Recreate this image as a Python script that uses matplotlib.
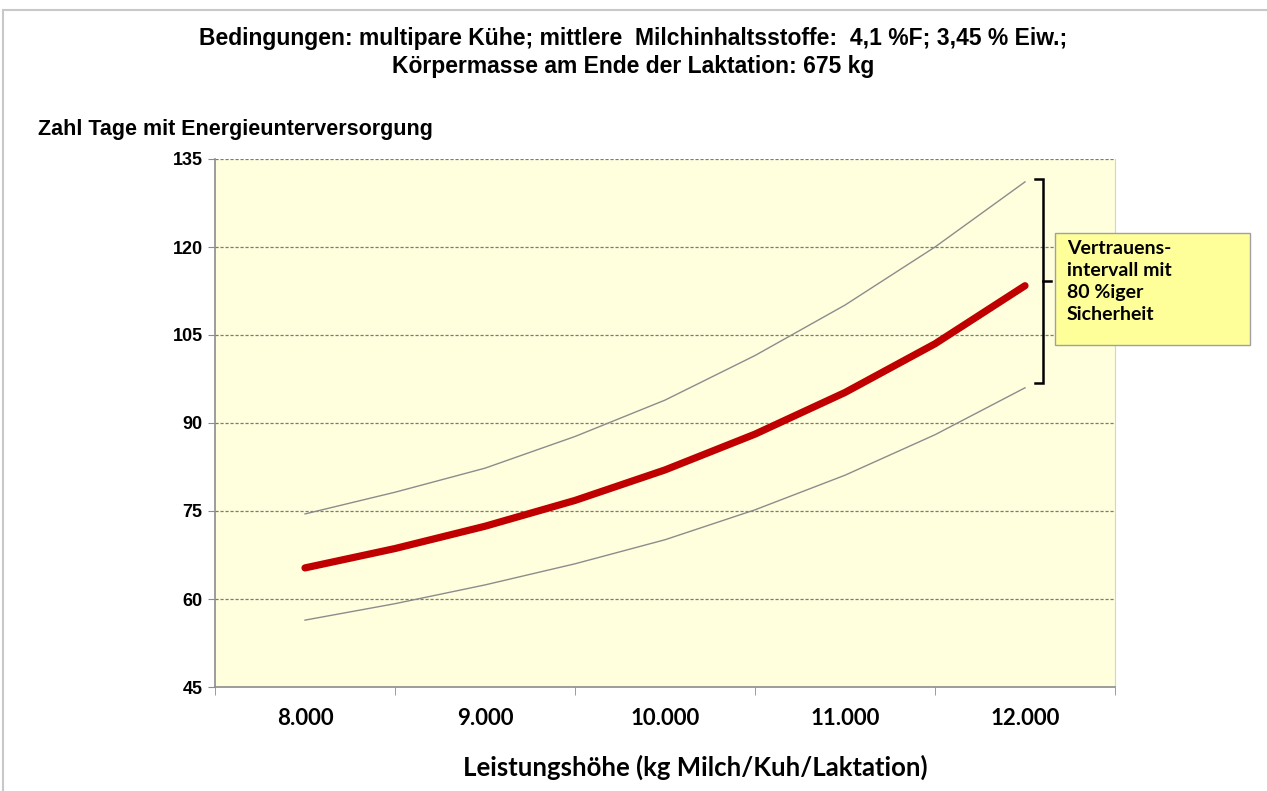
import matplotlib
matplotlib.use("Agg")
import matplotlib.pyplot as plt
from matplotlib.patches import Rectangle
from matplotlib.ticker import FixedLocator, NullFormatter

# Leistungshöhe (kg Milch/Kuh/Laktation)
milk = [8000, 8500, 9000, 9500, 10000, 10500, 11000, 11500, 12000]
# Zahl Tage mit Energieunterversorgung
days_mean = [65.3, 68.6, 72.4, 76.8, 82.0, 88.1, 95.2, 103.5, 113.4]
days_upper = [74.5, 78.2, 82.3, 87.7, 93.9, 101.5, 110.1, 120.0, 131.1]
days_lower = [56.4, 59.2, 62.4, 66.0, 70.1, 75.2, 81.1, 88.0, 96.0]

y_ticks = [45, 60, 75, 90, 105, 120, 135]
x_labels = ["8.000", "9.000", "10.000", "11.000", "12.000"]

narrow = ["Liberation Sans", "DejaVu Sans"]
calibri = ["Lato", "DejaVu Sans"]

W, H = 1267, 791
fig = plt.figure(figsize=(W / 100, H / 100), dpi=100)
fig.patch.set_facecolor("white")

# frame of the embedded picture
fig.add_artist(Rectangle((3 / W, -0.01), 1.1, 1 - 10 / H + 0.01, transform=fig.transFigure,
                         fill=False, edgecolor="#c8c8c8", linewidth=1.5))

ax = fig.add_axes([215 / W, 1 - 687 / H, 900 / W, 528 / H])
ax.set_facecolor("#ffffde")

ax.plot(milk, days_upper, color="#8c8c8c", linewidth=1.0, zorder=3)
ax.plot(milk, days_lower, color="#8c8c8c", linewidth=1.0, zorder=3)
ax.plot(milk, days_mean, color="#c00000", linewidth=5.2, solid_capstyle="round",
        solid_joinstyle="round", zorder=4)

ax.set_xlim(7500, 12500)
ax.set_ylim(45, 135)
ax.set_yticks(y_ticks)
ax.set_yticklabels([str(v) for v in y_ticks], fontfamily=narrow, fontweight="bold", fontsize=13)

# ticks between categories, labels at category centers
ax.xaxis.set_major_locator(FixedLocator(milk[::2]))
ax.set_xticklabels(x_labels, fontfamily=calibri, fontweight="bold", fontsize=16)
ax.tick_params(axis="x", which="major", length=0, pad=15)
ax.xaxis.set_minor_locator(FixedLocator([7500, 8500, 9500, 10500, 11500, 12500]))
ax.xaxis.set_minor_formatter(NullFormatter())
ax.tick_params(axis="x", which="minor", length=6, color="#8c8c8c", direction="out")
ax.tick_params(axis="y", length=5, color="#8c8c8c", direction="out", pad=4)

for v in y_ticks[1:]:
    ax.axhline(v, color="#7a7a7a", linewidth=0.9, linestyle=(0, (2.5, 1.5)), zorder=1)

for s in ["left", "bottom"]:
    ax.spines[s].set_color("#8c8c8c")
    ax.spines[s].set_linewidth(1.2)
ax.spines["right"].set_color("#d6d6c0")
ax.spines["top"].set_visible(False)

# bracket for the confidence interval
bx = 12100
tick = 45
ax.plot([bx - tick, bx, bx, bx - tick], [131.6, 131.6, 96.8, 96.8], color="black",
        linewidth=1.8, clip_on=False, zorder=5, solid_joinstyle="miter")
ax.plot([bx, bx + tick], [114.2, 114.2], color="black", linewidth=1.8, clip_on=False, zorder=5)

fig.text(1067 / W, 1 - 240 / H, "Vertrauens-\nintervall mit\n80 %iger\nSicherheit",
         ha="left", va="top", fontfamily=calibri, fontweight="bold", fontsize=14,
         linespacing=1.36, zorder=7)
fig.add_artist(Rectangle((1055 / W, 1 - 345 / H), 195 / W, 112 / H, transform=fig.transFigure,
                         facecolor="#ffff99", edgecolor="#a0a0a0", linewidth=1.0, zorder=6))

fig.text(633 / W, 1 - 39 / H,
         "Bedingungen: multipare Kühe; mittlere  Milchinhaltsstoffe:  4,1 %F; 3,45 % Eiw.;",
         ha="center", va="center", fontfamily=narrow, fontweight="bold", fontsize=16.5)
fig.text(633 / W, 1 - 67 / H, "Körpermasse am Ende der Laktation: 675 kg",
         ha="center", va="center", fontfamily=narrow, fontweight="bold", fontsize=16.5)
fig.text(38 / W, 1 - 130 / H, "Zahl Tage mit Energieunterversorgung",
         ha="left", va="center", fontfamily=narrow, fontweight="bold", fontsize=15.5)
fig.text(695 / W, 1 - 767 / H, "Leistungshöhe (kg Milch/Kuh/Laktation)",
         ha="center", va="center", fontfamily=calibri, fontweight="bold", fontsize=18.5)

fig.savefig("out.png", dpi=100)
